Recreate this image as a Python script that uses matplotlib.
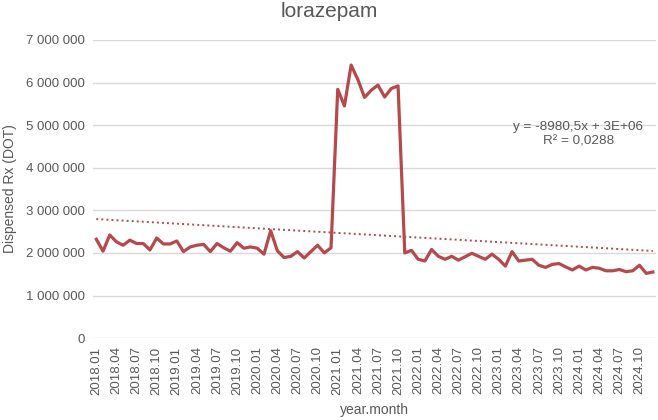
import numpy as np
import matplotlib.pyplot as plt

plt.rcParams['font.family'] = ['Liberation Sans', 'DejaVu Sans']

# monthly dispensed DOT, 2018.01 - 2024.12
months = [f"{y}.{m:02d}" for y in range(2018, 2025) for m in range(1, 13)]
values = [
    2.32, 2.04, 2.42, 2.26, 2.18, 2.30, 2.22, 2.22, 2.07, 2.35, 2.21, 2.21,   # 2018
    2.28, 2.03, 2.14, 2.18, 2.20, 2.03, 2.22, 2.12, 2.04, 2.24, 2.11, 2.14,   # 2019
    2.11, 1.97, 2.52, 2.05, 1.89, 1.92, 2.03, 1.88, 2.03, 2.18, 2.00, 2.12,   # 2020
    5.84, 5.45, 6.41, 6.07, 5.65, 5.82, 5.94, 5.66, 5.86, 5.92, 2.00, 2.06,   # 2021
    1.85, 1.81, 2.08, 1.92, 1.85, 1.92, 1.83, 1.91, 1.99, 1.92, 1.85, 1.97,   # 2022
    1.85, 1.69, 2.03, 1.81, 1.83, 1.85, 1.71, 1.66, 1.73, 1.75, 1.67, 1.60,   # 2023
    1.69, 1.60, 1.66, 1.64, 1.58, 1.58, 1.61, 1.56, 1.58, 1.71, 1.52, 1.55,   # 2024
]
values = np.array(values) * 1e6
eq_text = "y = -8980,5x + 3E+06\nR² = 0,0288"

x = np.arange(len(months))
slope, intercept = np.polyfit(x, values, 1)
trend = slope * x + intercept

red = '#B5494B'
grey_txt = '#595959'

fig = plt.figure(figsize=(6.58, 4.2), dpi=100)
ax = fig.add_axes([0.1413, 0.195, 0.856, 0.71])

ax.plot(x, values, color=red, linewidth=2.3, solid_joinstyle='round', zorder=3)
ax.plot(x, trend, color=red, linewidth=1.4, linestyle=(0, (1, 1.6)), zorder=2)

ax.set_xlim(-0.5, len(months) - 0.5)
ax.set_ylim(0, 7e6)
ax.set_yticks(np.arange(0, 7.01e6, 1e6))
ax.set_yticklabels([f"{int(v):,}".replace(',', ' ') for v in np.arange(0, 7.01e6, 1e6)])
ax.set_xticks(x[::3])
ax.set_xticklabels(months[::3], rotation=90)
ax.tick_params(axis='both', length=0, labelsize=9.5, labelcolor=grey_txt, pad=6)

ax.grid(axis='y', color='#D9D9D9', linewidth=1)
ax.set_axisbelow(True)
for s in ax.spines.values():
    s.set_visible(False)

fig.suptitle('lorazepam', fontsize=15, color=grey_txt, x=0.5, y=0.995, va='top')
ax.set_xlabel('year.month', fontsize=10, color=grey_txt, labelpad=6)
ax.set_ylabel('Dispensed Rx (DOT)', fontsize=10, color=grey_txt, labelpad=6)

ax.text(0.862, 0.683, eq_text, transform=ax.transAxes, ha='center', va='center',
        fontsize=9.7, color=grey_txt, linespacing=1.3)

fig.savefig('out.png', dpi=100)
